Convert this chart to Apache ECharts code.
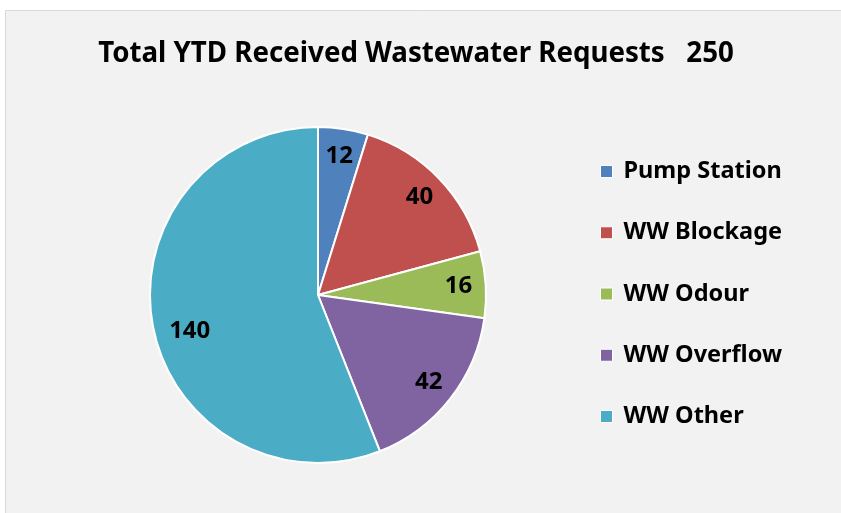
<!DOCTYPE html>
<html>
<head>
<meta charset="utf-8">
<script src="https://cdn.jsdelivr.net/npm/echarts@6/dist/echarts.min.js"></script>
<style>
  html, body { margin: 0; padding: 0; background: #fff; }
  #pie-chart { width: 841px; height: 513px; }
</style>
</head>
<body>
<div id="pie-chart"></div>
<script>
const categories = ['Pump Station', 'WW Blockage', 'WW Odour', 'WW Overflow', 'WW Other'];
const requests = [12, 40, 16, 42, 140];
const COLORS = ['#4f81bd', '#c0504d', '#9bbb59', '#8064a2', '#4bacc6'];

const FONT = 'Noto Sans';
const CENTER = [318, 295];
const RADIUS = 168;

const total = requests.reduce((a, b) => a + b, 0);
const pieData = categories.map((name, i) => ({name, value: requests[i]}));

// Excel pulls the big slice's label a bit towards the centre
const labelData = pieData.map((d) => d.name === 'WW Other'
  ? {...d, label: {offset: [10, 10]}}
  : d);

const chartOptions = {
  animation: false,
  backgroundColor: '#ffffff',
  color: COLORS,
  graphic: [{
    type: 'rect',
    z: -10,
    silent: true,
    shape: {x: 5.5, y: 10.5, width: 850, height: 520},
    style: {fill: '#f2f2f2', stroke: '#d9d9d9', lineWidth: 1}
  }],
  title: {
    text: `Total YTD Received Wastewater Requests   ${total}`,
    left: 411,
    top: 35,
    textAlign: 'center',
    textStyle: {
      fontFamily: FONT,
      fontWeight: 'bold',
      fontSize: 27.7,
      color: '#000'
    }
  },
  legend: {
    orient: 'vertical',
    left: 595,
    top: 154.5,
    itemWidth: 12,
    itemHeight: 12,
    itemGap: 37.25,
    icon: 'rect',
    data: categories,
    itemStyle: {borderColor: '#fff', borderWidth: 1},
    textStyle: {
      fontFamily: FONT,
      fontWeight: 'bold',
      fontSize: 23.5,
      lineHeight: 24,
      padding: [0, 0, 0, 6],
      color: '#000'
    }
  },
  series: [
    {
      name: 'requests',
      type: 'pie',
      center: CENTER,
      radius: [0, RADIUS],
      startAngle: 90,
      clockwise: true,
      label: {show: false},
      labelLine: {show: false},
      itemStyle: {borderColor: '#fff', borderWidth: 2},
      emphasis: {disabled: true},
      data: pieData
    },
    {
      // transparent ring, only used to put the labels at ~0.82 R
      name: 'labels',
      type: 'pie',
      center: CENTER,
      radius: [RADIUS * 0.64, RADIUS],
      startAngle: 90,
      clockwise: true,
      silent: true,
      itemStyle: {color: 'transparent', borderWidth: 0},
      label: {
        show: true,
        position: 'inside',
        formatter: '{c}',
        fontFamily: FONT,
        fontWeight: 'bold',
        fontSize: 24,
        color: '#000'
      },
      labelLine: {show: false},
      emphasis: {disabled: true},
      data: labelData
    }
  ]
};

const pieChart = echarts.init(document.getElementById('pie-chart'));
pieChart.setOption(chartOptions);
</script>
</body>
</html>
